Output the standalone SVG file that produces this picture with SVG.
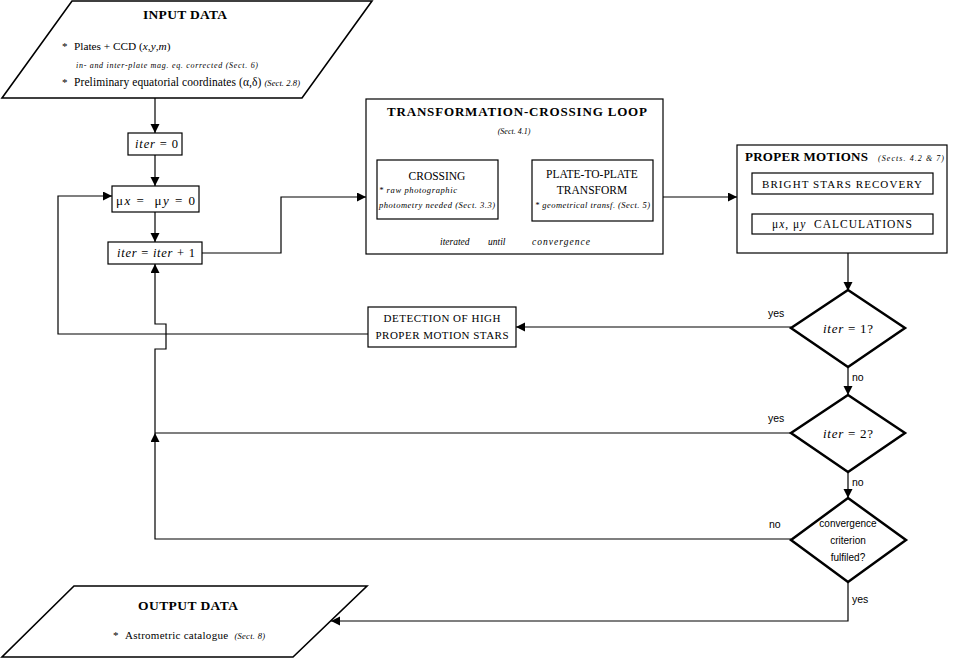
<svg xmlns="http://www.w3.org/2000/svg" width="953" height="658" viewBox="0 0 953 658">
<style>
.bx{fill:#fff;stroke:#000;stroke-width:1.2}
.pg{fill:#fff;stroke:#000;stroke-width:1.6}
.dm{fill:#fff;stroke:#000;stroke-width:2.5}
.ln{fill:none;stroke:#000;stroke-width:1.2}
.s{font-family:"Liberation Serif",serif;fill:#000}
.b{font-weight:bold}
.i{font-style:italic}
.sa{font-family:"Liberation Sans",sans-serif;fill:#000}
.m{text-anchor:middle}
</style>
<defs>
<marker id="ah" markerUnits="userSpaceOnUse" markerWidth="10" markerHeight="10" refX="9" refY="4.5" orient="auto">
<path d="M0,0 L9,4.5 L0,9 z" fill="#000"/>
</marker>
</defs>
<rect width="953" height="658" fill="#fff"/>

<g id="connectors">
<path class="ln" d="M155,98 V133" marker-end="url(#ah)"/>
<path class="ln" d="M155,155 V186" marker-end="url(#ah)"/>
<path class="ln" d="M155,212 V242" marker-end="url(#ah)"/>
<path class="ln" d="M202,253 H281 V197 H366" marker-end="url(#ah)"/>
<path class="ln" d="M498,174 H532" marker-end="url(#ah)"/>
<path class="ln" d="M532,207 H498" marker-end="url(#ah)"/>
<path class="ln" d="M663,197 H737" marker-end="url(#ah)"/>
<path class="ln" d="M845,194 V214" marker-end="url(#ah)"/>
<path class="ln" d="M848,253 V291" marker-end="url(#ah)"/>
<path class="ln" d="M848,367 V395" marker-end="url(#ah)"/>
<path class="ln" d="M848,472 V498" marker-end="url(#ah)"/>
<path class="ln" d="M791,327 H516" marker-end="url(#ah)"/>
<path class="ln" d="M368,334 H58 V196 H112" marker-end="url(#ah)"/>
<path class="ln" d="M791,433 H155"/>
<path class="ln" d="M791,539 H155 V433" marker-end="url(#ah)"/>
<path class="ln" d="M155,433 V349 H166 V324 H155 V264" marker-end="url(#ah)"/>
<path class="ln" d="M848,582 V621 H331" marker-end="url(#ah)"/>
</g>

<g id="input-data">
<polygon class="pg" points="72,1 372,1 302,98 2,98"/>
<text class="s b m" x="185" y="19" font-size="13.5" textLength="84">INPUT DATA</text>
<text class="s" x="62" y="50" font-size="11">*</text>
<text class="s" x="74" y="50" font-size="11.3">Plates + CCD (<tspan class="i">x</tspan>,<tspan class="i">y</tspan>,<tspan class="i">m</tspan>)</text>
<text class="s i" x="76" y="68" font-size="8" textLength="182">in- and inter-plate mag. eq. corrected  (Sect. 6)</text>
<text class="s" x="62" y="86" font-size="11">*</text>
<text class="s" x="74" y="86" font-size="11.5" textLength="226">Preliminary equatorial coordinates (α,δ) <tspan class="i" font-size="8.5">(Sect. 2.8)</tspan></text>
</g>

<g id="iter-zero">
<rect class="bx" x="128" y="133" width="54" height="22"/>
<text class="s" x="135" y="148" font-size="12.5" textLength="43"><tspan class="i">iter</tspan> = 0</text>
</g>

<g id="mu-zero">
<rect class="bx" x="112" y="186" width="87" height="26"/>
<text class="s" x="116" y="205" font-size="13" textLength="79">μ<tspan class="i">x</tspan> =&#160;&#160;μ<tspan class="i">y</tspan> = 0</text>
</g>

<g id="iter-inc">
<rect class="bx" x="108" y="242" width="94" height="22"/>
<text class="s" x="117" y="257" font-size="12.5" textLength="78"><tspan class="i">iter</tspan> = <tspan class="i">iter</tspan> + 1</text>
</g>

<g id="tc-loop">
<rect class="bx" x="366" y="99" width="297" height="155"/>
<text class="s b m" x="517" y="116" font-size="13" textLength="260">TRANSFORMATION-CROSSING LOOP</text>
<text class="s i m" x="514" y="134" font-size="8">(Sect. 4.1)</text>
<text class="s i" x="440" y="245" font-size="9.5">iterated</text>
<text class="s i" x="488" y="245" font-size="9.5">until</text>
<text class="s i" x="532" y="245" font-size="9.5" textLength="58">convergence</text>
</g>

<g id="crossing">
<rect class="bx" x="377" y="160" width="121" height="59"/>
<text class="s m" x="437" y="180" font-size="11.5">CROSSING</text>
<text class="s i" x="379" y="193" font-size="8.5" textLength="78">* raw photographic</text>
<text class="s i" x="379" y="208" font-size="8.5" textLength="116">photometry needed (Sect. 3.3)</text>
</g>

<g id="plate-transform">
<rect class="bx" x="532" y="160" width="121" height="61"/>
<text class="s m" x="592" y="178" font-size="11.5">PLATE-TO-PLATE</text>
<text class="s m" x="592" y="194" font-size="11.5">TRANSFORM</text>
<text class="s i" x="535" y="208" font-size="8.5" textLength="115">* geometrical transf. (Sect. 5)</text>
</g>

<g id="proper-motions">
<rect class="bx" x="737" y="145" width="210" height="108"/>
<text class="s b" x="745" y="161" font-size="13" textLength="123">PROPER MOTIONS</text>
<text class="s i" x="878" y="161" font-size="8" textLength="66">(Sects. 4.2 &amp; 7)</text>
</g>

<g id="bright-stars">
<rect class="bx" x="752" y="173" width="181" height="21"/>
<text class="s m" x="842" y="188" font-size="11" textLength="160">BRIGHT STARS RECOVERY</text>
</g>

<g id="pm-calc">
<rect class="bx" x="752" y="214" width="181" height="20"/>
<text class="s" x="772" y="228" font-size="11.5" textLength="140">μ<tspan class="i">x</tspan>, μ<tspan class="i">y</tspan>&#160; CALCULATIONS</text>
</g>

<g id="detection">
<rect class="bx" x="368" y="307" width="148" height="40"/>
<text class="s m" x="442" y="322" font-size="11" textLength="117">DETECTION OF HIGH</text>
<text class="s m" x="442" y="339" font-size="11" textLength="133">PROPER MOTION STARS</text>
</g>

<g id="decision-1">
<polygon class="dm" points="848,290 905,328 848,367 791,328"/>
<text class="s" x="823" y="333" font-size="13" textLength="50"><tspan class="i">iter</tspan> = 1?</text>
<text class="sa" x="768" y="317" font-size="10.5">yes</text>
<text class="sa" x="852" y="381" font-size="10.5">no</text>
</g>

<g id="decision-2">
<polygon class="dm" points="848,395 905,433 848,472 791,433"/>
<text class="s" x="823" y="438" font-size="13" textLength="50"><tspan class="i">iter</tspan> = 2?</text>
<text class="sa" x="768" y="422" font-size="10.5">yes</text>
<text class="sa" x="852" y="486" font-size="10.5">no</text>
</g>

<g id="decision-3">
<polygon class="dm" points="848,498 906,540 848,582 791,540"/>
<text class="sa m" x="848" y="527" font-size="10">convergence</text>
<text class="sa m" x="848" y="544" font-size="10">criterion</text>
<text class="sa m" x="848" y="561" font-size="10">fulfiled?</text>
<text class="sa" x="769" y="528" font-size="10.5">no</text>
<text class="sa" x="852" y="603" font-size="10.5">yes</text>
</g>

<g id="output-data">
<polygon class="pg" points="74,586 367,586 293,657 2,657"/>
<text class="s b m" x="188" y="610" font-size="13.5" textLength="100">OUTPUT DATA</text>
<text class="s" x="113" y="639" font-size="11">*</text>
<text class="s" x="125" y="639" font-size="11" textLength="140">Astrometric catalogue&#160; <tspan class="i" font-size="8.5">(Sect. 8)</tspan></text>
</g>
</svg>
